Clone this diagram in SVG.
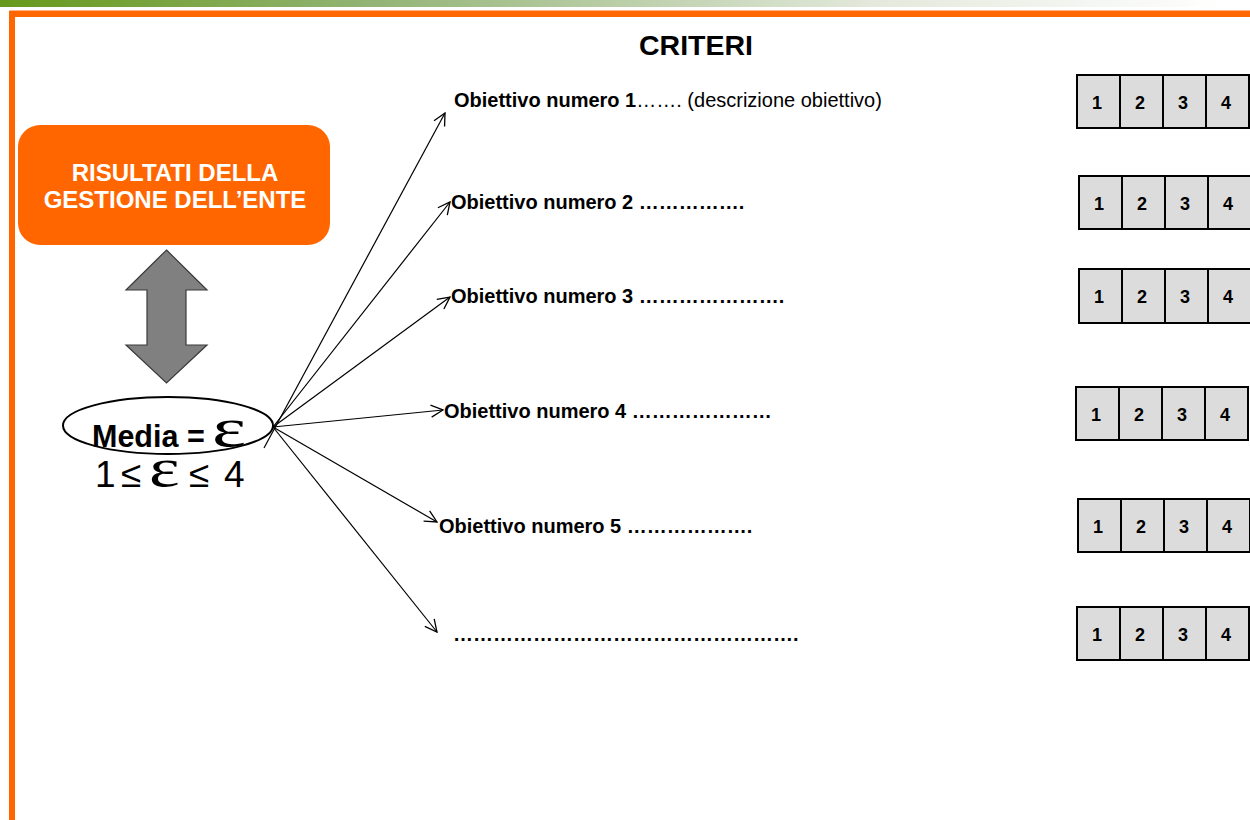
<svg xmlns="http://www.w3.org/2000/svg" width="1250" height="820" viewBox="0 0 1250 820">
<defs>
<linearGradient id="topbar" x1="0" y1="0" x2="1" y2="0">
<stop offset="0" stop-color="#66991a"/>
<stop offset="0.3" stop-color="#93b476"/>
<stop offset="0.7" stop-color="#e3e9dc"/>
<stop offset="0.98" stop-color="#ffffff"/>
</linearGradient>
<marker id="arr" markerUnits="userSpaceOnUse" markerWidth="14" markerHeight="14" refX="13" refY="7" orient="auto" viewBox="0 0 14 14">
<path d="M1,1 L13,7 L1,13" fill="none" stroke="#000" stroke-width="1.3"/>
</marker>
<style>
.sans{font-family:"Liberation Sans",Arial,sans-serif}
.serif{font-family:"Liberation Serif","Times New Roman",serif}
.obj{font-family:"Liberation Sans",Arial,sans-serif;font-size:20px;font-weight:bold;fill:#000}
.reg{font-weight:normal}
.cell{fill:#dcdcdc;stroke:#000;stroke-width:2}
.num{font-family:"Liberation Sans",Arial,sans-serif;font-size:18px;font-weight:bold;text-anchor:middle;fill:#000}
.conn{stroke:#000;stroke-width:1.2;fill:none;marker-end:url(#arr)}
</style>
</defs>
<rect x="0" y="0" width="1250" height="820" fill="#ffffff"/>
<g id="frame">
<rect x="0" y="0" width="1250" height="7" fill="url(#topbar)"/>
<path d="M9.5,830 V10.5 H1260" fill="none" stroke="#ffb487" stroke-width="1"/>
<path d="M12,830 V14 H1260" fill="none" stroke="#ff6600" stroke-width="6"/>
</g>
<g id="title">
<text x="696" y="55" class="sans" font-size="28.5" font-weight="bold" text-anchor="middle">CRITERI</text>
</g>
<g id="risultati">
<rect x="18" y="125" width="312" height="120" rx="22" ry="22" fill="#ff6600"/>
<text class="sans" font-size="24" font-weight="bold" fill="#ffffff" text-anchor="middle"><tspan x="175" y="181">RISULTATI DELLA</tspan><tspan x="175" y="208">GESTIONE DELL’ENTE</tspan></text>
</g>
<g id="double-arrow">
<polygon points="166.5,250 207,290 186,290 186,345 207,345 166.5,383 126,345 147,345 147,290 126,290" fill="#808080" stroke="#3a3a3a" stroke-width="1.2"/>
</g>
<g id="media">
<ellipse cx="168" cy="425.5" rx="105" ry="28.5" fill="#ffffff" stroke="#000" stroke-width="2"/>
<text x="92" y="447" class="sans" font-size="30.5" font-weight="bold">Media =</text>
<text class="serif" font-size="54" transform="translate(212,446) scale(1.5,1)">ε</text>
<text y="487" class="sans" font-size="37"><tspan x="95">1</tspan><tspan x="121">≤</tspan><tspan x="189">≤</tspan><tspan x="224">4</tspan></text>
<text class="serif" font-size="54" transform="translate(149,486) scale(1.35,1)">ε</text>
</g>
<g id="connectors">
<line class="conn" x1="264" y1="448" x2="445" y2="113"/>
<line class="conn" x1="273" y1="427" x2="450" y2="202"/>
<line class="conn" x1="273" y1="427" x2="450" y2="297"/>
<line class="conn" x1="273" y1="427" x2="443" y2="410"/>
<line class="conn" x1="273" y1="427" x2="437" y2="522"/>
<line class="conn" x1="273" y1="427" x2="437" y2="632"/>
</g>
<g id="obiettivo-1"><text x="454" y="107" class="obj">Obiettivo numero 1<tspan class="reg">&#8230;&#8230;. (descrizione obiettivo)</tspan></text></g>
<g id="obiettivo-2"><text x="451" y="209" class="obj">Obiettivo numero 2 &#8230;&#8230;&#8230;&#8230;&#8230;.</text></g>
<g id="obiettivo-3"><text x="451" y="303" class="obj">Obiettivo numero 3 &#8230;&#8230;&#8230;&#8230;&#8230;&#8230;&#8230;.</text></g>
<g id="obiettivo-4"><text x="444" y="418" class="obj">Obiettivo numero 4 &#8230;&#8230;&#8230;&#8230;&#8230;&#8230;&#8230;</text></g>
<g id="obiettivo-5"><text x="439" y="533" class="obj">Obiettivo numero 5 &#8230;&#8230;&#8230;&#8230;&#8230;&#8230;.</text></g>
<g id="obiettivo-6"><text x="453" y="641" class="obj">&#8230;&#8230;&#8230;&#8230;&#8230;&#8230;&#8230;&#8230;&#8230;&#8230;&#8230;&#8230;&#8230;&#8230;&#8230;&#8230;&#8230;.</text></g>
<g id="scala-1">
<rect class="cell" x="1077" y="75" width="43" height="53"/><rect class="cell" x="1120" y="75" width="43" height="53"/><rect class="cell" x="1163" y="75" width="43" height="53"/><rect class="cell" x="1206" y="75" width="43" height="53"/>
<text class="num" y="109"><tspan x="1097">1</tspan><tspan x="1140">2</tspan><tspan x="1183">3</tspan><tspan x="1226">4</tspan></text>
</g>
<g id="scala-2">
<rect class="cell" x="1079" y="176" width="43" height="53"/><rect class="cell" x="1122" y="176" width="43" height="53"/><rect class="cell" x="1165" y="176" width="43" height="53"/><rect class="cell" x="1208" y="176" width="43" height="53"/>
<text class="num" y="210"><tspan x="1099">1</tspan><tspan x="1142">2</tspan><tspan x="1185">3</tspan><tspan x="1228">4</tspan></text>
</g>
<g id="scala-3">
<rect class="cell" x="1079" y="269" width="43" height="54"/><rect class="cell" x="1122" y="269" width="43" height="54"/><rect class="cell" x="1165" y="269" width="43" height="54"/><rect class="cell" x="1208" y="269" width="43" height="54"/>
<text class="num" y="303"><tspan x="1099">1</tspan><tspan x="1142">2</tspan><tspan x="1185">3</tspan><tspan x="1228">4</tspan></text>
</g>
<g id="scala-4">
<rect class="cell" x="1076" y="387" width="43" height="53"/><rect class="cell" x="1119" y="387" width="43" height="53"/><rect class="cell" x="1162" y="387" width="43" height="53"/><rect class="cell" x="1205" y="387" width="43" height="53"/>
<text class="num" y="421"><tspan x="1096">1</tspan><tspan x="1139">2</tspan><tspan x="1182">3</tspan><tspan x="1225">4</tspan></text>
</g>
<g id="scala-5">
<rect class="cell" x="1078" y="499" width="43" height="53"/><rect class="cell" x="1121" y="499" width="43" height="53"/><rect class="cell" x="1164" y="499" width="43" height="53"/><rect class="cell" x="1207" y="499" width="43" height="53"/>
<text class="num" y="533"><tspan x="1098">1</tspan><tspan x="1141">2</tspan><tspan x="1184">3</tspan><tspan x="1227">4</tspan></text>
</g>
<g id="scala-6">
<rect class="cell" x="1077" y="607" width="43" height="53"/><rect class="cell" x="1120" y="607" width="43" height="53"/><rect class="cell" x="1163" y="607" width="43" height="53"/><rect class="cell" x="1206" y="607" width="43" height="53"/>
<text class="num" y="641"><tspan x="1097">1</tspan><tspan x="1140">2</tspan><tspan x="1183">3</tspan><tspan x="1226">4</tspan></text>
</g>
</svg>
